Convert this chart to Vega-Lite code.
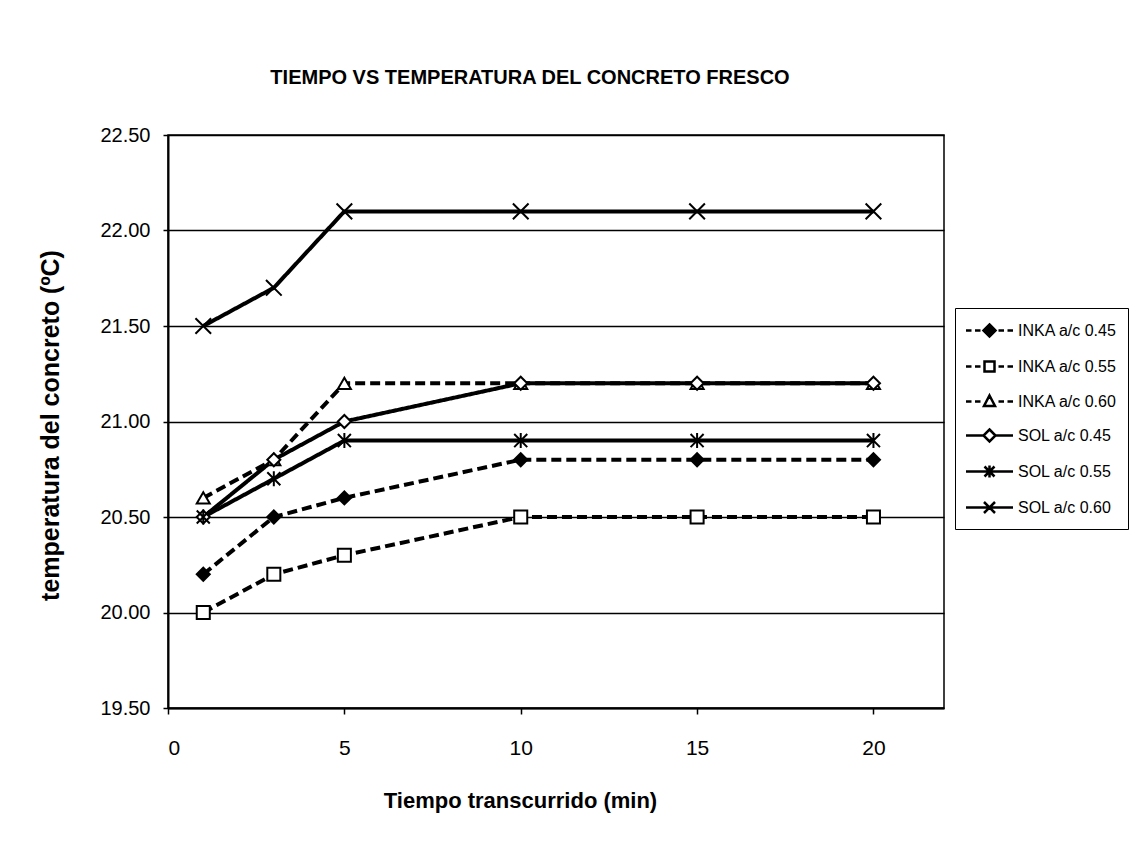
{
  "$schema": "https://vega.github.io/schema/vega-lite/v6.json",
  "autosize": {"type": "none"},
  "width": 776,
  "height": 573,
  "padding": {"left": 168, "top": 135, "right": 197, "bottom": 147},
  "background": "white",
  "title": {
    "text": "TIEMPO VS TEMPERATURA DEL CONCRETO FRESCO",
    "font": "Liberation Sans",
    "fontSize": 20,
    "fontWeight": "bold",
    "color": "black",
    "anchor": "middle",
    "frame": "group",
    "dx": -26,
    "offset": 37
  },
  "data": {
    "values": [
      {"t": 1, "temp": 20.2, "serie": "INKA a/c 0.45", "marca": "INKA"},
      {"t": 3, "temp": 20.5, "serie": "INKA a/c 0.45", "marca": "INKA"},
      {"t": 5, "temp": 20.6, "serie": "INKA a/c 0.45", "marca": "INKA"},
      {"t": 10, "temp": 20.8, "serie": "INKA a/c 0.45", "marca": "INKA"},
      {"t": 15, "temp": 20.8, "serie": "INKA a/c 0.45", "marca": "INKA"},
      {"t": 20, "temp": 20.8, "serie": "INKA a/c 0.45", "marca": "INKA"},
      {"t": 1, "temp": 20.0, "serie": "INKA a/c 0.55", "marca": "INKA"},
      {"t": 3, "temp": 20.2, "serie": "INKA a/c 0.55", "marca": "INKA"},
      {"t": 5, "temp": 20.3, "serie": "INKA a/c 0.55", "marca": "INKA"},
      {"t": 10, "temp": 20.5, "serie": "INKA a/c 0.55", "marca": "INKA"},
      {"t": 15, "temp": 20.5, "serie": "INKA a/c 0.55", "marca": "INKA"},
      {"t": 20, "temp": 20.5, "serie": "INKA a/c 0.55", "marca": "INKA"},
      {"t": 1, "temp": 20.6, "serie": "INKA a/c 0.60", "marca": "INKA"},
      {"t": 3, "temp": 20.8, "serie": "INKA a/c 0.60", "marca": "INKA"},
      {"t": 5, "temp": 21.2, "serie": "INKA a/c 0.60", "marca": "INKA"},
      {"t": 10, "temp": 21.2, "serie": "INKA a/c 0.60", "marca": "INKA"},
      {"t": 15, "temp": 21.2, "serie": "INKA a/c 0.60", "marca": "INKA"},
      {"t": 20, "temp": 21.2, "serie": "INKA a/c 0.60", "marca": "INKA"},
      {"t": 1, "temp": 20.5, "serie": "SOL a/c 0.45", "marca": "SOL"},
      {"t": 3, "temp": 20.8, "serie": "SOL a/c 0.45", "marca": "SOL"},
      {"t": 5, "temp": 21.0, "serie": "SOL a/c 0.45", "marca": "SOL"},
      {"t": 10, "temp": 21.2, "serie": "SOL a/c 0.45", "marca": "SOL"},
      {"t": 15, "temp": 21.2, "serie": "SOL a/c 0.45", "marca": "SOL"},
      {"t": 20, "temp": 21.2, "serie": "SOL a/c 0.45", "marca": "SOL"},
      {"t": 1, "temp": 20.5, "serie": "SOL a/c 0.55", "marca": "SOL"},
      {"t": 3, "temp": 20.7, "serie": "SOL a/c 0.55", "marca": "SOL"},
      {"t": 5, "temp": 20.9, "serie": "SOL a/c 0.55", "marca": "SOL"},
      {"t": 10, "temp": 20.9, "serie": "SOL a/c 0.55", "marca": "SOL"},
      {"t": 15, "temp": 20.9, "serie": "SOL a/c 0.55", "marca": "SOL"},
      {"t": 20, "temp": 20.9, "serie": "SOL a/c 0.55", "marca": "SOL"},
      {"t": 1, "temp": 21.5, "serie": "SOL a/c 0.60", "marca": "SOL"},
      {"t": 3, "temp": 21.7, "serie": "SOL a/c 0.60", "marca": "SOL"},
      {"t": 5, "temp": 22.1, "serie": "SOL a/c 0.60", "marca": "SOL"},
      {"t": 10, "temp": 22.1, "serie": "SOL a/c 0.60", "marca": "SOL"},
      {"t": 15, "temp": 22.1, "serie": "SOL a/c 0.60", "marca": "SOL"},
      {"t": 20, "temp": 22.1, "serie": "SOL a/c 0.60", "marca": "SOL"}
    ]
  },
  "encoding": {
    "x": {
      "field": "t",
      "type": "quantitative",
      "scale": {"domain": [0, 22], "nice": false, "zero": false},
      "axis": {
        "values": [0, 5, 10, 15, 20],
        "grid": false,
        "title": "Tiempo transcurrido (min)",
        "titleFont": "Liberation Sans",
        "titleFontSize": 22,
        "titleFontWeight": "bold",
        "titleX": 352,
        "titleY": 92,
        "titleBaseline": "middle",
        "titleAlign": "center",
        "labelFont": "Liberation Sans",
        "labelFontSize": 21,
        "labelBaseline": "middle",
        "labelPadding": 34,
        "tickSize": 6
      }
    },
    "y": {
      "field": "temp",
      "type": "quantitative",
      "scale": {"domain": [19.5, 22.5], "nice": false, "zero": false},
      "axis": {
        "values": [19.5, 20, 20.5, 21, 21.5, 22, 22.5],
        "format": ".2f",
        "grid": true,
        "title": "temperatura del concreto (ºC)",
        "titleFont": "Liberation Sans",
        "titleFontSize": 25,
        "titleFontWeight": "bold",
        "titleAngle": -90,
        "titleX": -118,
        "titleY": 290,
        "titleAlign": "center",
        "titleBaseline": "middle",
        "labelFont": "Liberation Sans",
        "labelFontSize": 20,
        "labelPadding": 13,
        "tickSize": 5
      }
    }
  },
  "layer": [
    {
      "mark": {"type": "line", "color": "black", "strokeWidth": 4},
      "encoding": {
        "detail": {"field": "serie", "type": "nominal"},
        "strokeDash": {
          "field": "marca",
          "type": "nominal",
          "scale": {"domain": ["INKA", "SOL"], "range": [[10, 5], [1, 0]]},
          "legend": null
        }
      }
    },
    {
      "mark": {"type": "point", "stroke": "black", "strokeWidth": 2, "size": 170, "opacity": 1, "filled": false},
      "encoding": {
        "shape": {
          "field": "serie",
          "type": "nominal",
          "scale": {
            "domain": ["INKA a/c 0.45", "INKA a/c 0.55", "INKA a/c 0.60", "SOL a/c 0.45", "SOL a/c 0.55", "SOL a/c 0.60"],
            "range": ["diamond", "square", "triangle-up", "diamond", "M-1,-1L1,1M1,-1L-1,1M0,-1.15L0,1.15", "M-1.2,-1.2L1.2,1.2M1.2,-1.2L-1.2,1.2"]
          },
          "legend": null
        },
        "fill": {
          "field": "serie",
          "type": "nominal",
          "scale": {
            "domain": ["INKA a/c 0.45", "INKA a/c 0.55", "INKA a/c 0.60", "SOL a/c 0.45", "SOL a/c 0.55", "SOL a/c 0.60"],
            "range": ["black", "white", "white", "white", "white", "white"]
          },
          "legend": null
        }
      }
    },
    {
      "transform": [{"filter": "datum.t > 100"}],
      "mark": {"type": "point", "stroke": "black", "strokeWidth": 2.5, "opacity": 1, "filled": false},
      "encoding": {
        "shape": {
          "field": "serie",
          "type": "nominal",
          "scale": {
            "domain": ["INKA a/c 0.45", "INKA a/c 0.55", "INKA a/c 0.60", "SOL a/c 0.45", "SOL a/c 0.55", "SOL a/c 0.60"],
            "range": [
              "M-2.35,0L-1.8,0M-1.45,0L-0.9,0M0.9,0L1.45,0M1.8,0L2.35,0M0,-0.6L0.6,0L0,0.6L-0.6,0ZM0,-0.4L0.4,0L0,0.4L-0.4,0ZM0,-0.2L0.2,0L0,0.2L-0.2,0ZM-0.1,0L0.1,0",
              "M-2.35,0L-1.8,0M-1.45,0L-0.9,0M0.9,0L1.45,0M1.8,0L2.35,0M-0.5,-0.5L0.5,-0.5L0.5,0.5L-0.5,0.5Z",
              "M-2.35,0L-1.8,0M-1.45,0L-0.9,0M0.9,0L1.45,0M1.8,0L2.35,0M0,-0.6L0.55,0.45L-0.55,0.45Z",
              "M-2.35,0L-0.6,0M0.6,0L2.35,0M0,-0.6L0.6,0L0,0.6L-0.6,0Z",
              "M-2.35,0L2.35,0M-0.5,-0.5L0.5,0.5M0.5,-0.5L-0.5,0.5M0,-0.6L0,0.6",
              "M-2.35,0L2.35,0M-0.55,-0.55L0.55,0.55M0.55,-0.55L-0.55,0.55"
            ]
          },
          "legend": {"title": null}
        }
      }
    }
  ],
  "resolve": {"scale": {"shape": "independent"}},
  "config": {
    "view": {"stroke": "black", "strokeWidth": 1.5},
    "axis": {
      "domainColor": "black",
      "domainWidth": 2,
      "tickColor": "black",
      "tickWidth": 1.5,
      "gridColor": "black",
      "gridWidth": 1.5,
      "gridOpacity": 1,
      "labelColor": "black",
      "titleColor": "black"
    },
    "legend": {
      "orient": "none",
      "legendX": 787,
      "legendY": 173,
      "strokeColor": "black",
      "fillColor": "white",
      "padding": 11,
      "symbolSize": 400,
      "symbolStrokeWidth": 2.5,
      "symbolStrokeColor": "black",
      "symbolFillColor": "white",
      "symbolOffset": 12,
      "labelOffset": 17,
      "rowPadding": 13,
      "labelFont": "Liberation Sans",
      "labelFontSize": 16,
      "labelColor": "black"
    }
  }
}
